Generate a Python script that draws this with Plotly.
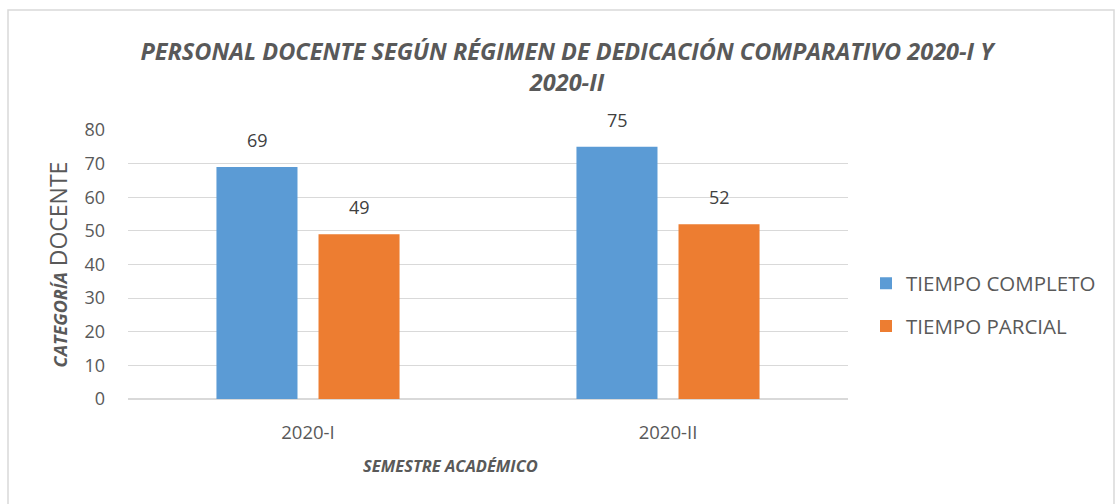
import plotly.graph_objects as go

semesters = ["2020-I", "2020-II"]
tiempo_completo = [69, 75]
tiempo_parcial = [49, 52]
series_names = ["TIEMPO COMPLETO", "TIEMPO PARCIAL"]
colors = ["#5B9BD5", "#ED7D31"]
y_ticks = [0, 10, 20, 30, 40, 50, 60, 70, 80]

FONT = "Open Sans"
GRAY = "#595959"

fig = go.Figure()
for name, vals, col, grp in zip(series_names, [tiempo_completo, tiempo_parcial], colors, ["a", "b"]):
    fig.add_trace(go.Bar(
        x=semesters, y=vals, name=name, marker_color=col, marker_line_width=0,
        legendgroup=grp,
    ))

# data labels
for vals, shift in zip([tiempo_completo, tiempo_parcial], [-51, 51]):
    for s, v in zip(semesters, vals):
        fig.add_annotation(x=s, y=v, text=str(v), showarrow=False, xref="x", yref="y",
                           xshift=shift, yshift=27, font=dict(family=FONT, size=18, color="#404040"))

# x axis title as annotation
fig.add_annotation(text="<b><i>SEMESTRE ACADÉMICO</i></b>", xref="paper", yref="paper",
                   x=(450 - 128) / 720, y=-(465 - 399) / 269, yanchor="middle", xanchor="center",
                   showarrow=False, font=dict(family=FONT, size=16.5, color=GRAY))

# chart border
fig.add_shape(type="rect", xref="paper", yref="paper",
              x0=(8 - 128) / 720, x1=(1114 - 128) / 720,
              y0=-(520 - 399) / 269, y1=1 + (130 - 10) / 269,
              line=dict(color="#D9D9D9", width=1.5), fillcolor="rgba(0,0,0,0)", layer="below")

fig.update_layout(
    width=1115, height=504,
    margin=dict(l=128, r=267, t=130, b=105, autoexpand=False),
    paper_bgcolor="white", plot_bgcolor="white",
    barmode="group", bargap=0.433, bargroupgap=0.206,
    title=dict(
        text="<b><i>PERSONAL DOCENTE SEGÚN RÉGIMEN DE DEDICACIÓN COMPARATIVO 2020-I Y<br>2020-II</i></b>",
        x=567 / 1115, xanchor="center", y=1 - 60 / 504, yanchor="middle",
        font=dict(family=FONT, size=23.5, color=GRAY),
    ),
    font=dict(family=FONT, color=GRAY),
    yaxis=dict(
        range=[0, 80], tickvals=y_ticks, showgrid=True, gridcolor="#D9D9D9", gridwidth=1,
        zeroline=True, zerolinecolor="#D9D9D9", zerolinewidth=1.5,
        tickfont=dict(family=FONT, size=18, color=GRAY), ticks="", ticklabelstandoff=22,
        title=dict(text="<b><i><span style='font-size:18px'>CATEGORÍA</span></i></b> DOCENTE",
                   font=dict(family=FONT, size=23, color=GRAY), standoff=10),
        showline=False,
    ),
    xaxis=dict(
        tickfont=dict(family=FONT, size=18.5, color=GRAY), ticks="", ticklabelstandoff=20,
        showline=False,
    ),
    legend=dict(
        x=(866 - 128) / 720, xanchor="left", y=(399 - 305) / 269, yanchor="middle",
        font=dict(family=FONT, size=20.5, color=GRAY),
        traceorder="grouped", tracegroupgap=13, itemwidth=30,
        bgcolor="rgba(0,0,0,0)",
    ),
)

fig.write_html("out.html", config={"displayModeBar": False},
               post_script="document.body.style.margin='0px';")
